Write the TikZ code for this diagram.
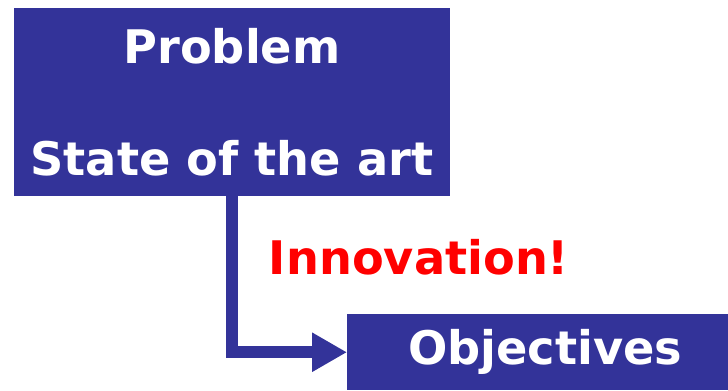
\documentclass[tikz,border=0pt]{standalone}
\usepackage{fontspec}
\setmainfont{DejaVu Sans}
\usetikzlibrary{arrows.meta}
\definecolor{boxblue}{HTML}{333399}
\tikzset{
  bluebox/.style={fill=boxblue, text=white, inner sep=0pt, align=center},
  bigfont/.style={font=\bfseries\fontsize{39.5}{95.6}\selectfont}
}
\begin{document}
\begin{tikzpicture}[x=0.03cm, y=-0.03cm]
    \useasboundingbox (0,0) rectangle (728,390);
    \clip (0,0) rectangle (728,390);

    \node [bluebox, bigfont, minimum width=13.08cm, minimum height=5.64cm] (prob) at (232, 102) {Problem\\State of the art};
    \node [bluebox, bigfont, minimum width=11.88cm, minimum height=2.28cm, anchor=north west] (obj) at (347, 314) {Objectives};

    \node [bigfont, text=red, inner sep=0pt] (innov) at (419, 257) {Innovation!};

    \draw [boxblue, line width=0.36cm, -{Triangle[length=1.05cm, width=1.11cm]}] (prob.south) |- (obj.west);
\end{tikzpicture}
\end{document}
